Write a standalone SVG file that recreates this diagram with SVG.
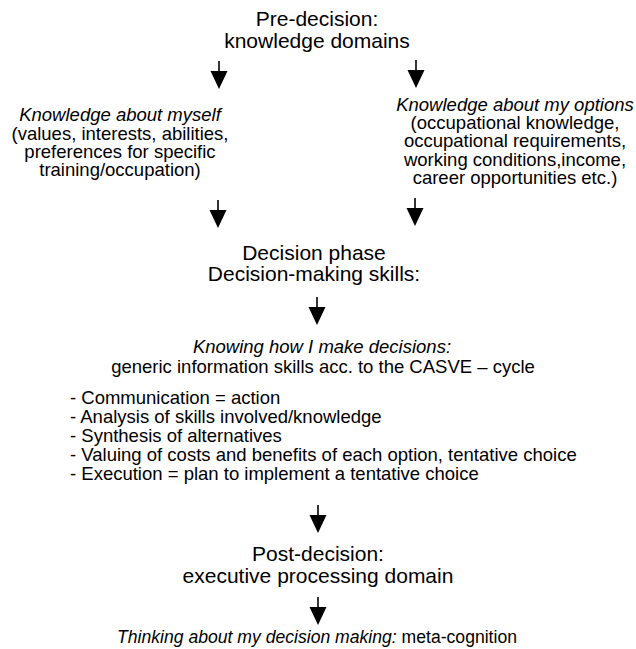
<svg xmlns="http://www.w3.org/2000/svg" width="636" height="649" viewBox="0 0 636 649">
  <defs>
    <style>
      text { font-family: "Liberation Sans", Arial, sans-serif; fill: #000; text-anchor: middle; }
      .head { font-size: 21px; }
      .body { font-size: 18.5px; }
      .foot { font-size: 17.6px; }
      .it { font-style: italic; }
      .list { text-anchor: start; }
      .shaft { stroke: #000; stroke-width: 1.6; fill: none; }
      .tip { fill: #000; }
    </style>
    <!-- downward arrow, origin at the shaft top -->
    <g id="down">
      <line class="shaft" x1="0" y1="0" x2="0" y2="12"/>
      <polygon class="tip" points="-8.5,10 8.5,10 0,28"/>
    </g>
  </defs>

  <rect width="636" height="649" fill="#fff"/>

  <g id="connectors">
    <use href="#down" x="219" y="61"/>
    <use href="#down" x="416" y="60"/>
    <use href="#down" x="218" y="200"/>
    <use href="#down" x="415" y="198"/>
    <use href="#down" x="317" y="297"/>
    <use href="#down" x="318" y="505"/>
    <use href="#down" x="318" y="597"/>
  </g>

  <g id="pre-decision">
    <text class="head" x="317" y="26">Pre-decision:</text>
    <text class="head" x="317" y="48">knowledge domains</text>
  </g>

  <g id="knowledge-self">
    <text class="body it" x="120" y="121">Knowledge about myself</text>
    <text class="body" x="120" y="140">(values, interests, abilities,</text>
    <text class="body" x="120" y="158">preferences for specific</text>
    <text class="body" x="120" y="176">training/occupation)</text>
  </g>

  <g id="knowledge-options">
    <text class="body it" x="515" y="111">Knowledge about my options</text>
    <text class="body" x="515" y="129">(occupational knowledge,</text>
    <text class="body" x="515" y="147">occupational requirements,</text>
    <text class="body" x="515" y="166">working conditions,income,</text>
    <text class="body" x="515" y="184">career opportunities etc.)</text>
  </g>

  <g id="decision-phase">
    <text class="head" x="314" y="260">Decision phase</text>
    <text class="head" x="314" y="281">Decision-making skills:</text>
  </g>

  <g id="casve">
    <text class="body it" x="322" y="353">Knowing how I make decisions:</text>
    <text class="body" x="323" y="373">generic information skills acc. to the CASVE – cycle</text>
    <text class="body list" x="70" y="404">- Communication = action</text>
    <text class="body list" x="70" y="423">- Analysis of skills involved/knowledge</text>
    <text class="body list" x="70" y="442">- Synthesis of alternatives</text>
    <text class="body list" x="70" y="461">- Valuing of costs and benefits of each option, tentative choice</text>
    <text class="body list" x="70" y="480">- Execution = plan to implement a tentative choice</text>
  </g>

  <g id="post-decision">
    <text class="head" x="318" y="561">Post-decision:</text>
    <text class="head" x="318" y="583">executive processing domain</text>
  </g>

  <g id="meta-cognition">
    <text class="foot" x="317" y="643"><tspan class="it">Thinking about my decision making:</tspan> meta-cognition</text>
  </g>
</svg>
